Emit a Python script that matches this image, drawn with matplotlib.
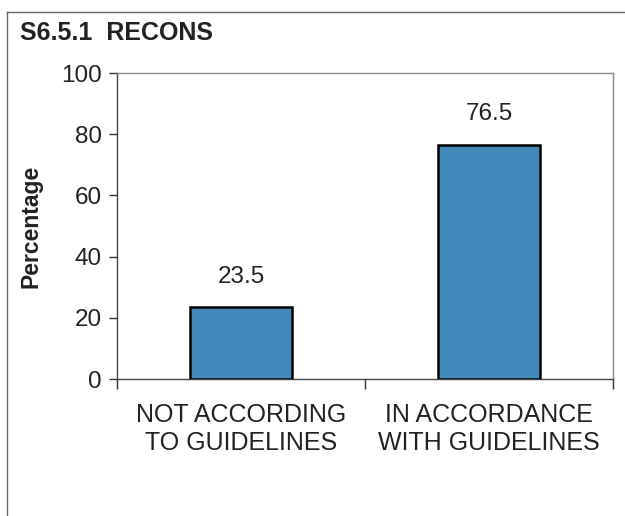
import numpy as np
import matplotlib
matplotlib.use("Agg")
import matplotlib.pyplot as plt
from matplotlib.lines import Line2D

plt.rcParams['font.family'] = ['Liberation Sans', 'DejaVu Sans']

# survey result, percent of cases
categories = ['NOT ACCORDING\nTO GUIDELINES', 'IN ACCORDANCE\nWITH GUIDELINES']
values = [23.5, 76.5]
yticks = [0, 20, 40, 60, 80, 100]

fig = plt.figure(figsize=(6.25, 5.16), dpi=100)
ax = fig.add_axes([0.1872, 0.2655, 0.7936, 0.593])

x = np.arange(len(values))
ax.bar(x, values, width=0.41, color='#428ab9', edgecolor='black', linewidth=1.8, zorder=3)

for xi, v in zip(x, values):
    ax.annotate('%.1f' % v, (xi, v), xytext=(0, 14), textcoords='offset points',
                ha='center', va='bottom', fontsize=17.5, color='#222222')

ax.set_xlim(-0.5, len(values) - 0.5)
ax.set_ylim(0, 100)
ax.set_yticks(yticks)
ax.set_xticks(np.arange(-0.5, len(values)))
ax.set_xticklabels([])
ax.tick_params(axis='y', labelsize=17.5, length=6, width=1, colors='#333333',
               labelcolor='#222222', pad=5)
ax.tick_params(axis='x', length=7, width=1, colors='#333333')
for s in ax.spines.values():
    s.set_color('#444444')
    s.set_linewidth(1.0)
ax.spines['top'].set_color('#888888')
ax.spines['right'].set_color('#888888')

# category names under each bar
for xi, name in zip(x, categories):
    ax.text(xi, -0.08, name, transform=ax.get_xaxis_transform(), ha='center', va='top',
            fontsize=18, linespacing=1.2, color='#222222')

fig.text(0.050, 0.562, 'Percentage', rotation=90, ha='center', va='center',
         fontsize=16.5, fontweight='bold', color='#222222')
fig.text(0.032, 0.936, 'S6.5.1  RECONS', ha='left', va='center',
         fontsize=18, fontweight='bold', color='#222222')

# outer frame (top and left edges)
fig.add_artist(Line2D([0.011, 1.0], [0.977, 0.977], transform=fig.transFigure,
                      color='#666666', linewidth=1.0))
fig.add_artist(Line2D([0.011, 0.011], [0.0, 0.977], transform=fig.transFigure,
                      color='#666666', linewidth=1.0))

fig.savefig('out.png', dpi=100, facecolor='white')
